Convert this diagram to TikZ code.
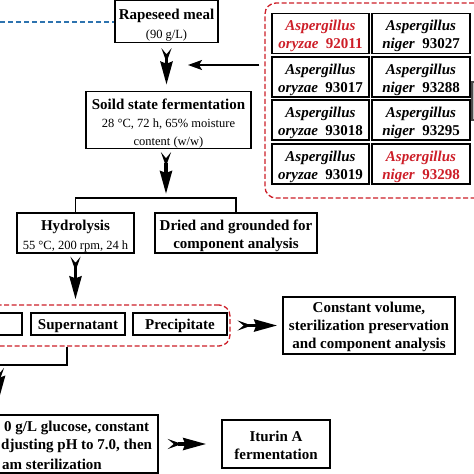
\documentclass[tikz,border=0pt]{standalone}
\usepackage{fontspec}
\setmainfont{Liberation Serif}
\usetikzlibrary{arrows.meta}
\definecolor{redd}{RGB}{205,30,40}
\definecolor{blued}{RGB}{45,115,175}
\newcommand{\tup}[1]{\rule{0pt}{#1pt}}
\begin{document}
\begin{tikzpicture}[x=1pt,y=-1pt,
  box/.style={draw,line width=1.6pt,inner sep=0pt,align=center,font=\fontsize{15}{18}\selectfont\bfseries},
  cell/.style={box,minimum height=40pt,font=\fontsize{15}{18}\selectfont\bfseries\itshape},
  rdash/.style={draw=redd,line width=1.3pt,dash pattern=on 5pt off 2.5pt,rounded corners=11pt,inner sep=0pt},
  plain/.style={line width=1.5pt},
  fat/.style={line width=3.5pt,{Stealth[reversed,length=14pt 0,width=10pt 0,inset=6pt 0]}-{Stealth[length=23pt 0,width=12pt 0,inset=2pt 0]}},
  thinarr/.style={line width=1.5pt,-{Stealth[length=14pt 0,width=10pt 0,inset=3pt 0]}}]
\useasboundingbox (0,0) rectangle (474,474);
% blue dashed line
\coordinate (bl) at (0,22);
% boxes
\node[box,minimum width=103pt,minimum height=42pt] (rape) at (166.5,21.5)
  {\tup{18.5}Rapeseed meal\\[1pt]\fontsize{12.5}{15}\selectfont\mdseries (90 g/L)};
\draw[blued,line width=1.3pt,dash pattern=on 5pt off 3pt] (bl) -- (bl -| rape.west);
\node[box,minimum width=165pt,minimum height=54pt] (soild) at (168.5,120)
  {\tup{18.3}Soild state fermentation\\\fontsize{12.5}{14.5}\selectfont\mdseries 28 °C, 72 h, 65\% moisture\\\fontsize{12.5}{14.5}\selectfont\mdseries content (w/w)};
\node[box,minimum width=117pt,minimum height=40pt] (hydro) at (75.5,233)
  {\tup{16.3}Hydrolysis\\[1pt]\fontsize{12.5}{15}\selectfont\mdseries 55 °C, 200 rpm, 24 h};
\node[box,minimum width=162pt,minimum height=40pt] (dried) at (236,233)
  {\tup{16.3}Dried and grounded for\\component analysis};
% red box 2
\node[rdash,minimum width=270pt,minimum height=41pt] (box2) at (95,325.5) {};
\node[box,minimum width=52pt,minimum height=22pt] (cut) at (-4,324) {};
\node[box,minimum width=94pt,minimum height=22pt] (super) at (78,324) {\tup{14.3}Supernatant};
\node[box,minimum width=94pt,minimum height=22pt] (precip) at (180,324) {\tup{14.3}Precipitate};
\node[box,minimum width=172pt,minimum height=57pt] (const) at (369,325.5)
  {\tup{12.3}Constant volume,\\sterilization preservation\\and component analysis};
% bottom box
\node[box,minimum width=278pt,minimum height=58pt] (bot) at (19,444) {};
\node[anchor=west,inner sep=0pt,font=\fontsize{15}{18}\selectfont\bfseries] (b1) at (4,428) {0 g/L glucose, constant};
\node[anchor=west,inner sep=0pt,font=\fontsize{15}{18}\selectfont\bfseries] (b2) at (1,446) {djusting pH to 7.0, then};
\node[anchor=west,inner sep=0pt,font=\fontsize{15}{18}\selectfont\bfseries] (b3) at (2,464) {am sterilization};
\node[box,minimum width=108pt,minimum height=48pt] (itu) at (276,444)
  {\tup{12.3}Iturin A\\fermentation};
% strain box
\node[rdash,minimum width=235pt,minimum height=195pt] (sbox) at (382.5,100.5) {};
\node[cell,minimum width=97pt,text=redd] (s11) at (320.5,33.5) {\tup{15.3}Aspergillus\\oryzae\ \ \upshape 92011};
\node[cell,minimum width=98pt] (s12) at (421,33.5) {\tup{15.3}Aspergillus\\niger\ \ \upshape 93027};
\node[cell,minimum width=97pt] (s21) at (320.5,77) {\tup{15.3}Aspergillus\\oryzae\ \ \upshape 93017};
\node[cell,minimum width=98pt] (s22) at (421,77) {\tup{15.3}Aspergillus\\niger\ \ \upshape 93288};
\node[cell,minimum width=97pt] (s31) at (320.5,120) {\tup{15.3}Aspergillus\\oryzae\ \ \upshape 93018};
\node[cell,minimum width=98pt] (s32) at (421,120) {\tup{15.3}Aspergillus\\niger\ \ \upshape 93295};
\node[cell,minimum width=97pt] (s41) at (320.5,164) {\tup{15.3}Aspergillus\\oryzae\ \ \upshape 93019};
\node[cell,minimum width=98pt,text=redd] (s42) at (421,164) {\tup{15.3}Aspergillus\\niger\ \ \upshape 93298};
\node[draw=black!70,fill=black!25,line width=1.2pt,minimum width=6pt,minimum height=38pt,inner sep=0pt] (gray) at (475,101) {};
% connectors
\draw[fat,shorten <=5pt,shorten >=6pt] (rape.south) -- (rape.south |- soild.north);
\coordinate (tipA) at (188,65);
\draw[thinarr,shorten <=5pt] (sbox.west |- tipA) -- (tipA);
\coordinate (br) at (166,198);
\draw[plain] (hydro.north) |- (br) -| (dried.north);
\draw[fat,shorten <=3pt,shorten >=4pt] (br |- soild.south) -- (br);
\draw[fat,shorten <=3pt,shorten >=5pt] (hydro.south) -- (hydro.south |- box2.north);
\draw[fat,shorten <=7pt,shorten >=5pt] (box2.east |- const.west) -- (const.west);
\coordinate (c1) at (67,365);
\coordinate (c2) at (-1,365);
\coordinate (c3) at (-1,399);
\draw[plain] (c1 |- box2.south) -- (c1) -- (c2);
\draw[fat,shorten <=3pt] (c2) -- (c3);
\draw[fat,shorten <=9pt,shorten >=15pt] (bot.east |- itu.west) -- (itu.west);
\end{tikzpicture}
\end{document}
